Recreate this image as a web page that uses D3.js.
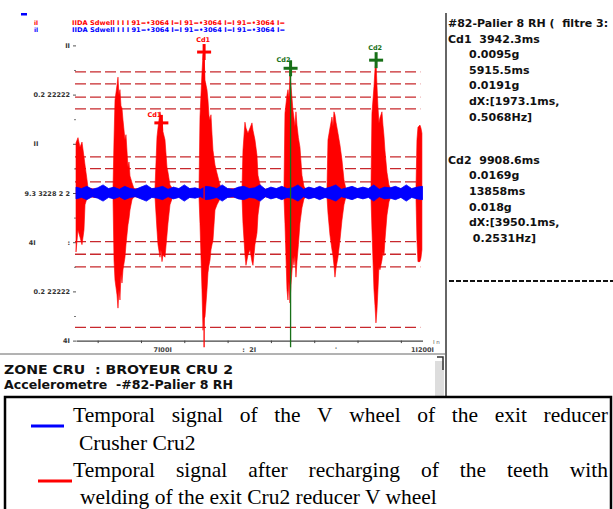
<!DOCTYPE html>
<html>
<head>
<meta charset="utf-8">
<script src="https://cdn.jsdelivr.net/npm/d3@7"></script>
<style>
body { margin: 0; background: #fff; }
svg { display: block; }
</style>
</head>
<body>
<div id="chart"></div>
<script>
// red signal envelope: [time ms, upper g, lower g]
const redEnvelope = [
  [0, 0.0068, -0.0080], [92, 0.0075, -0.0050], [185, 0.0062, -0.0060], [277, 0.0069, -0.0070],
  [369, 0.0049, -0.0050], [416, 0.0038, -0.0016], [508, 0.0018, -0.0007], [554, 0.0007, -0.0005],
  [900, 0.0005, -0.0006], [1300, 0.0006, -0.0005], [1708, 0.0005, -0.0005],
  [1755, 0.0072, -0.0091], [1801, 0.0126, -0.0118], [1893, 0.0146, -0.0138], [1939, 0.0157, -0.0156],
  [1985, 0.0133, -0.0131], [2031, 0.0140, -0.0145], [2078, 0.0118, -0.0110], [2124, 0.0115, -0.0122],
  [2170, 0.0099, -0.0104], [2262, 0.0072, -0.0087], [2308, 0.0079, -0.0070], [2401, 0.0035, -0.0043],
  [2447, 0.0042, -0.0035], [2493, 0.0023, -0.0023], [2586, 0.0014, -0.0009], [2678, 0.0006, -0.0005],
  [3100, 0.0005, -0.0006], [3647, 0.0006, -0.0005],
  [3740, 0.0076, -0.0050], [3786, 0.0088, -0.0070], [3878, 0.0110, -0.0087], [3924, 0.0102, -0.0077],
  [3971, 0.0099, -0.0093], [4017, 0.0083, -0.0084], [4109, 0.0072, -0.0087], [4201, 0.0035, -0.0057],
  [4248, 0.0028, -0.0041], [4340, 0.0011, -0.0016], [4432, 0.0007, -0.0008], [4525, 0.0005, -0.0005],
  [5100, 0.0006, -0.0006], [5679, 0.0005, -0.0005],
  [5725, 0.0103, -0.0041], [5817, 0.0163, -0.0131], [5864, 0.0187, -0.0186], [5910, 0.0191, -0.0170],
  [5956, 0.0153, -0.0168], [6048, 0.0140, -0.0131], [6094, 0.0126, -0.0108], [6140, 0.0105, -0.0098],
  [6187, 0.0099, -0.0091], [6233, 0.0106, -0.0077], [6280, 0.0080, -0.0070], [6325, 0.0058, -0.0064],
  [6418, 0.0038, -0.0023], [6510, 0.0027, -0.0016], [6648, 0.0011, -0.0008], [6741, 0.0005, -0.0005],
  [7200, 0.0006, -0.0006], [7664, 0.0005, -0.0005],
  [7710, 0.0058, -0.0041], [7802, 0.0096, -0.0084], [7849, 0.0088, -0.0098], [7941, 0.0081, -0.0084],
  [8034, 0.0088, -0.0077], [8126, 0.0095, -0.0093], [8172, 0.0085, -0.0098], [8264, 0.0072, -0.0070],
  [8357, 0.0051, -0.0054], [8403, 0.0024, -0.0030], [8495, 0.0012, -0.0009], [8588, 0.0005, -0.0005],
  [9100, 0.0006, -0.0006], [9603, 0.0005, -0.0005],
  [9649, 0.0108, -0.0041], [9742, 0.0133, -0.0131], [9788, 0.0140, -0.0145], [9834, 0.0128, -0.0120],
  [9880, 0.0160, -0.0149], [9926, 0.0146, -0.0125], [10019, 0.0112, -0.0087], [10065, 0.0102, -0.0098],
  [10111, 0.0090, -0.0085], [10157, 0.0110, -0.0114], [10203, 0.0092, -0.0093], [10270, 0.0075, -0.0070],
  [10342, 0.0062, -0.0041], [10434, 0.0024, -0.0020], [10526, 0.0009, -0.0008], [10619, 0.0005, -0.0005],
  [11100, 0.0006, -0.0006], [11589, 0.0005, -0.0005],
  [11635, 0.0072, -0.0027], [11727, 0.0088, -0.0057], [11820, 0.0103, -0.0077], [11866, 0.0090, -0.0085],
  [11912, 0.0110, -0.0098], [11958, 0.0106, -0.0114], [12005, 0.0096, -0.0102], [12097, 0.0081, -0.0087],
  [12189, 0.0065, -0.0064], [12281, 0.0045, -0.0037], [12374, 0.0018, -0.0016], [12466, 0.0005, -0.0005],
  [13000, 0.0006, -0.0006], [13620, 0.0005, -0.0005],
  [13666, 0.0108, -0.0050], [13759, 0.0144, -0.0131], [13805, 0.0167, -0.0152], [13851, 0.0180, -0.0176],
  [13897, 0.0146, -0.0159], [13943, 0.0117, -0.0131], [13990, 0.0095, -0.0100], [14036, 0.0102, -0.0104],
  [14128, 0.0110, -0.0091], [14174, 0.0092, -0.0080], [14220, 0.0078, -0.0085], [14266, 0.0058, -0.0064],
  [14359, 0.0028, -0.0030], [14451, 0.0011, -0.0012], [14543, 0.0005, -0.0005], [15100, 0.0006, -0.0006],
  [15698, 0.0005, -0.0005],
  [15744, 0.0072, -0.0064], [15790, 0.0089, -0.0093], [15882, 0.0092, -0.0093], [15928, 0.0088, -0.0088],
  [15974, 0.0081, -0.0077]
];

// blue signal half-width (g), one value every 250 ms from 0 to 16000 ms
const blueStep = 250;
const blueAmp = [
  0.0008, 0.0006, 0.0009, 0.0005, 0.0007, 0.0011, 0.0006, 0.0008, 0.0005, 0.0009,
  0.0006, 0.0005, 0.0008, 0.0011, 0.0006, 0.0007, 0.0009, 0.0005, 0.0008, 0.0006,
  0.0011, 0.0006, 0.0007, 0.0005, 0.0009, 0.0008, 0.0006, 0.0011, 0.0006, 0.0005,
  0.0008, 0.0009, 0.0006, 0.0007, 0.0011, 0.0005, 0.0008, 0.0006, 0.0009, 0.0006,
  0.0007, 0.0011, 0.0005, 0.0008, 0.0006, 0.0009, 0.0006, 0.0008, 0.0011, 0.0005,
  0.0007, 0.0009, 0.0006, 0.0008, 0.0006, 0.0011, 0.0005, 0.0008, 0.0007, 0.0009,
  0.0006, 0.0011, 0.0006, 0.0008, 0.0009
];

// alarm levels (dashed)
const thresholds = [0.0164, 0.0148, 0.0130, 0.0114, 0.0049, 0.0033, 0.0015, -0.0066, -0.0083, -0.0100, -0.0182];

// cursors
const cd1 = [[3942.3, 0.0095], [5915.5, 0.0191]];
const cd2 = [[9908.6, 0.0169], [13858, 0.018]];
const cursorBottom = -0.0209;

// axes
const yTickVals = [0.02, 0.013333, 0.006667, 0, -0.006667, -0.013333, -0.02];
const yTickText = ["II", "0.2 22222", "II              ", "9.3 3228 2 2", "4I              :", "0.2 22222", "4I"];
const yMinorVals = [0.016667, 0.01, 0.003333, -0.003333, -0.01, -0.016667];
const xTickVals = [1000, 3000, 5000, 7000, 9000, 11000, 13000, 15000];
const xLabelVals = [4000, 8000, 12000, 16000];
const xLabelText = ["7I00I", ":  2I", "'", "1I200I"];

const headerRed = "IIDA Sdwell I I I   91=•3064   I=I   91=•3064   I=I   91=•3064   I=";
const headerBlue = "IIDA Sdwell I I I   91=•3064   I=I   91=•3064   I=I   91=•3064   I=";

const panelLines = ["#82-Palier 8 RH (  filtre 3:", "Cd1  3942.3ms", "0.0095g", "5915.5ms", "0.0191g",
  "dX:[1973.1ms,", "0.5068Hz]", "", "Cd2  9908.6ms", "0.0169g", "13858ms", "0.018g", "dX:[3950.1ms,", " 0.2531Hz]"];

const infoLines = ["ZONE CRU  : BROYEUR CRU 2", "Accelerometre  -#82-Palier 8 RH"];

const legendLines = ["Temporal signal of the V wheel of the exit reducer", "Crusher Cru2",
  "Temporal signal after recharging of the teeth with", "welding of the exit Cru2 reducer V wheel"];

const W = 613, H = 509;
const svg = d3.select("#chart").append("svg").attr("width", W).attr("height", H);
svg.append("rect").attr("width", W).attr("height", H).attr("fill", "#fff");

const x = d3.scaleLinear().domain([0, 16000]).range([76, 422.5]);
const y = d3.scaleLinear().domain([-0.02, 0.02]).range([340.6, 45.4]);

const tiny = "DejaVu Sans, sans-serif";

// header strips
svg.append("rect").attr("x", 21).attr("y", 13).attr("width", 6).attr("height", 2.5).attr("fill", "#0000ff");
[[headerRed, "#ff0000", 25], [headerBlue, "#0000ff", 32]].forEach(([t, c, yy]) => {
  svg.append("text").attr("x", 34).attr("y", yy).attr("fill", c)
    .attr("font-family", tiny).attr("font-size", 6).attr("font-weight", "bold").text("il");
  svg.append("text").attr("x", 72).attr("y", yy).attr("fill", c)
    .attr("font-family", tiny).attr("font-size", 6.5).attr("font-weight", "bold")
    .attr("textLength", 213).attr("lengthAdjust", "spacingAndGlyphs").text(t);
});

// threshold dashed lines
svg.append("g").selectAll("line").data(thresholds).join("line")
  .attr("x1", x(0) - 1).attr("x2", x(15900))
  .attr("y1", d => y(d)).attr("y2", d => y(d))
  .attr("stroke", "#c8282d").attr("stroke-width", 1.3).attr("stroke-dasharray", "11,4");

// y axis
const yAxis = svg.append("g").attr("transform", "translate(76,0)")
  .call(d3.axisLeft(y).tickValues(yTickVals).tickSize(3).tickPadding(3)
    .tickFormat((d, i) => yTickText[i]));
yAxis.select(".domain").remove();
yAxis.selectAll("line").attr("stroke", "#555");
yAxis.selectAll("text").attr("font-family", tiny).attr("font-size", 6.5).attr("font-weight", "bold")
  .attr("fill", "#333").style("white-space", "pre");
const yMinor = svg.append("g").attr("transform", "translate(76,0)")
  .call(d3.axisLeft(y).tickValues(yMinorVals).tickSize(2).tickFormat(""));
yMinor.select(".domain").remove();
yMinor.selectAll("line").attr("stroke", "#777");

// x axis
const xAxis = svg.append("g").attr("transform", `translate(0,${y(-0.02)})`)
  .call(d3.axisBottom(x).tickValues(xTickVals).tickSize(2.5).tickSizeOuter(0).tickFormat(""));
xAxis.select(".domain").attr("stroke", "#444").attr("stroke-width", 1.4);
xAxis.selectAll("line").attr("stroke", "#444");
svg.append("g").selectAll("text").data(xLabelVals).join("text")
  .attr("x", d => x(d)).attr("y", y(-0.02) + 11)
  .attr("text-anchor", "middle").attr("font-family", tiny).attr("font-size", 6.5)
  .attr("font-weight", "bold").attr("fill", "#444").style("white-space", "pre")
  .text((d, i) => xLabelText[i]);
svg.append("text").attr("x", 433).attr("y", y(-0.02) + 3).attr("font-family", tiny)
  .attr("font-size", 5.5).attr("fill", "#555").text("I n");

// red signal
const redArea = d3.area()
  .x(d => x(d[0])).y0(d => y(d[2])).y1(d => y(d[1]));
svg.append("path").datum(redEnvelope).attr("d", redArea)
  .attr("fill", "#ff0000").attr("stroke", "#ff0000").attr("stroke-width", 0.6);

// blue signal
const blueArea = d3.area()
  .x((d, i) => x(i * blueStep)).y0(d => y(-d)).y1(d => y(d));
svg.append("path").datum(blueAmp).attr("d", blueArea)
  .attr("fill", "#0000ff").attr("stroke", "#0000ff").attr("stroke-width", 0.8);

// cursors
function plus(g, p, color) {
  g.append("line").attr("x1", x(p[0]) - 7).attr("x2", x(p[0]) + 7)
    .attr("y1", y(p[1])).attr("y2", y(p[1])).attr("stroke", color).attr("stroke-width", 3);
  g.append("line").attr("x1", x(p[0])).attr("x2", x(p[0]))
    .attr("y1", y(p[1]) - 8).attr("y2", y(p[1]) + 8).attr("stroke", color).attr("stroke-width", 3);
}
const cur = svg.append("g");
cur.append("line").attr("x1", x(cd1[1][0])).attr("x2", x(cd1[1][0]))
  .attr("y1", y(cd1[1][1])).attr("y2", y(cursorBottom)).attr("stroke", "#ff0000").attr("stroke-width", 1.3);
cur.append("line").attr("x1", x(cd2[0][0])).attr("x2", x(cd2[0][0]))
  .attr("y1", y(cd2[0][1])).attr("y2", y(cursorBottom)).attr("stroke", "#187018").attr("stroke-width", 1.3);
[[cd1, "#ff0000", "Cd1"], [cd2, "#187018", "Cd2"]].forEach(([pts, color, name]) => {
  pts.forEach((p, i) => {
    plus(cur, p, color);
    cur.append("text")
      .attr("x", x(p[0]) + (i === 0 ? -7 : -1)).attr("y", y(p[1]) - (i === 0 ? 6 : 10))
      .attr("text-anchor", "middle").attr("font-family", tiny).attr("font-size", 6.5)
      .attr("font-weight", "bold").attr("fill", color).text(name);
  });
});

// right panel
svg.append("line").attr("x1", 446).attr("x2", 446).attr("y1", 13).attr("y2", 397)
  .attr("stroke", "#333").attr("stroke-width", 1.5);
svg.append("g").selectAll("text").data(panelLines).join("text")
  .attr("x", (d, i) => (i === 0 || i === 1 || i === 8) ? 448 : 469)
  .attr("y", (d, i) => 27 + 15.6 * i + (i >= 8 ? 12 : 0))
  .attr("font-family", tiny).attr("font-size", 11).attr("font-weight", "bold")
  .attr("fill", "#111").style("white-space", "pre").text(d => d);
svg.append("line").attr("x1", 449).attr("x2", 613).attr("y1", 281).attr("y2", 281)
  .attr("stroke", "#111").attr("stroke-width", 2).attr("stroke-dasharray", "5,2");

// info box under the plot
svg.append("line").attr("x1", 0).attr("x2", 446).attr("y1", 354).attr("y2", 354)
  .attr("stroke", "#666").attr("stroke-width", 1);
svg.append("rect").attr("x", 435).attr("y", 361).attr("width", 9).attr("height", 36).attr("fill", "#ddd");
svg.append("path").attr("d", "M437,357 H443 V370").attr("fill", "none").attr("stroke", "#333").attr("stroke-width", 1.5);
svg.append("g").selectAll("text").data(infoLines).join("text")
  .attr("x", 4).attr("y", (d, i) => 374 + 15 * i)
  .attr("font-family", tiny).attr("font-size", 12.5).attr("font-weight", "bold").attr("fill", "#111")
  .attr("textLength", 229).attr("lengthAdjust", "spacingAndGlyphs").style("white-space", "pre")
  .text(d => d);

// legend box
svg.append("rect").attr("x", 5).attr("y", 397).attr("width", 606).attr("height", 130)
  .attr("fill", "none").attr("stroke", "#000").attr("stroke-width", 2.5);
svg.append("line").attr("x1", 31).attr("x2", 64).attr("y1", 426).attr("y2", 426)
  .attr("stroke", "#0000ff").attr("stroke-width", 3);
svg.append("line").attr("x1", 38).attr("x2", 72).attr("y1", 481).attr("y2", 481)
  .attr("stroke", "#ff0000").attr("stroke-width", 3);

const leg = svg.append("g").attr("font-family", "Liberation Serif, Times New Roman, serif")
  .attr("font-size", 21.5).attr("fill", "#000");
const legX = [73, 79, 73, 80];
const legY = [422, 450, 477, 504];
legendLines.forEach((line, li) => {
  const justified = li === 0 || li === 2;
  if (!justified) {
    leg.append("text").attr("x", legX[li]).attr("y", legY[li]).text(line);
    return;
  }
  const words = line.split(" ");
  const ts = words.map(w => leg.append("text").attr("y", legY[li]).text(w));
  const widths = ts.map(t => t.node().getComputedTextLength());
  const gap = (608 - legX[li] - d3.sum(widths)) / (words.length - 1);
  let cx = legX[li];
  ts.forEach((t, i) => { t.attr("x", cx); cx += widths[i] + gap; });
});
</script>
</body>
</html>
